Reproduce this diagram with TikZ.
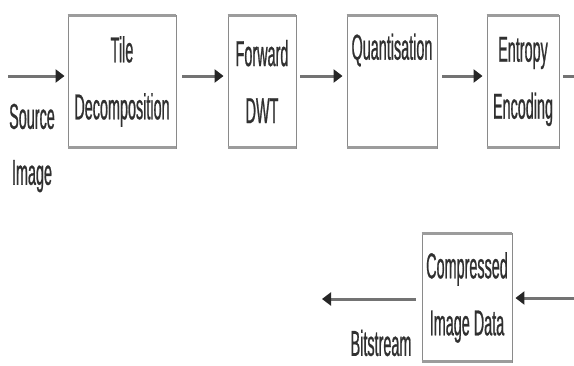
\documentclass[tikz,border=0pt]{standalone}
\usepackage{fontspec}
\setmainfont{Liberation Sans}[FakeStretch=0.40,FakeBold=0.6]
\usetikzlibrary{arrows.meta}
\definecolor{boxline}{HTML}{8A8A8A}
\definecolor{bandc}{HTML}{9C9C9C}
\definecolor{txt}{HTML}{303030}
\definecolor{shaft}{HTML}{737373}
\begin{document}
\begin{tikzpicture}[x=1pt,y=-1pt,
  box/.style={draw=boxline, line width=0.9pt, fill=white, inner sep=0pt,
    text=txt, font=\fontsize{36}{57}\selectfont, align=center},
  lbl/.style={text=txt, font=\fontsize{36}{56}\selectfont, align=center, inner sep=0pt},
  conn/.style={draw=shaft, line width=3pt,
    -{Triangle[length=9pt,width=13pt,color=black!85]}},
  stub/.style={draw=shaft, line width=3pt},
  band/.style={draw=bandc, line width=3.4pt}]
\useasboundingbox[fill=white] (0,0) rectangle (574,365);
% boxes
\node[box, minimum width=108pt, minimum height=133pt] (b1) at (122,81.5) {Tile\\Decomposition};
\node[box, minimum width=68pt, minimum height=133pt] (b2) at (262,81.5) {Forward\\DWT};
\node[box, minimum width=90pt, minimum height=133pt] (b3) at (392,81.5) {};
\node[box, minimum width=72pt, minimum height=133pt] (b4) at (523,81.5) {Entropy\\Encoding};
\node[box, minimum width=90pt, minimum height=129pt] (b5) at (467,297.5) {Compressed\\Image Data};
\node[lbl] (qt) at (392,50) {Quantisation};
% bands
\foreach \b in {b1,b2,b3,b4,b5}{
  \draw[band] ([yshift=-1pt]\b.north west) -- ([yshift=-1pt]\b.north east);
  \draw[band] ([yshift=1pt]\b.south west) -- ([yshift=1pt]\b.south east);
}
% labels
\node[lbl] (src) at (32,148) {Source\\Image};
\node[lbl] (bit) at (381,343) {Bitstream};
% connectors
\coordinate (s) at (8,76);
\coordinate (e) at (574,76);
\coordinate (r) at (574,298);
\coordinate (l) at (322,299);
\draw[conn, shorten >=3pt] (s) -- (s -| b1.west);
\draw[conn, shorten <=6pt, shorten >=4pt] (b1.east |- s) -- (b2.west |- s);
\draw[conn, shorten <=4pt, shorten >=4pt] (b2.east |- s) -- (b3.west |- s);
\draw[conn, shorten <=5pt, shorten >=4pt] (b3.east |- s) -- (b4.west |- s);
\draw[stub, shorten <=4pt] (b4.east |- s) -- (e);
\draw[conn, shorten >=3pt] (r) -- (r -| b5.east);
\draw[conn, shorten <=6pt] (b5.west |- l) -- (l);
\end{tikzpicture}
\end{document}
